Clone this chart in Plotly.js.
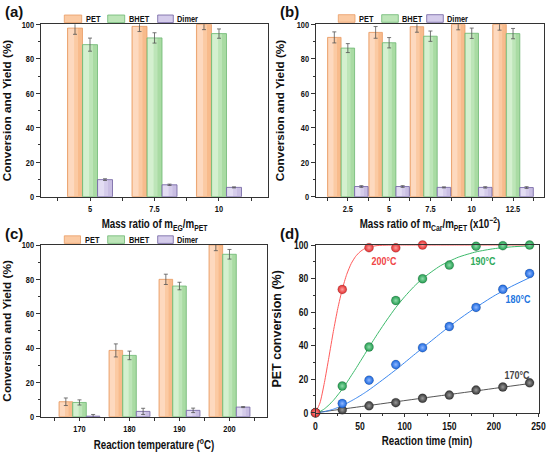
<!DOCTYPE html>
<html>
<head>
<meta charset="utf-8">
<script src="https://cdn.plot.ly/plotly-3.0.1.min.js"></script>
<style>html,body{margin:0;padding:0;background:#fff;}#chart{width:550px;height:452px;}</style>
</head>
<body>
<div id="chart"></div>
<script>
// ---------- Data ----------
// (a) mass ratio EG/PET
const catsA = ['5', '7.5', '10'];
const petA = [97.8, 98.8, 100];
const petAErr = [3.6, 3.0, 3.1];
const bhetA = [88.2, 92.1, 94.6];
const bhetAErr = [3.8, 3.0, 2.7];
const dimerA = [9.9, 6.9, 5.4];
const dimerAErr = [0.5, 0.4, 0.3];

// (b) mass ratio Car/PET (x10^-2)
const catsB = ['2.5', '5', '7.5', '10', '12.5'];
const petB = [92.4, 95.3, 98.6, 100, 100];
const petBErr = [3.2, 3.4, 3.2, 3.2, 3.4];
const bhetB = [86.2, 89.3, 93.1, 94.8, 94.6];
const bhetBErr = [2.6, 3.0, 3.0, 3.0, 3.0];
const dimerB = [5.9, 5.9, 5.4, 5.4, 5.3];
const dimerBErr = [0.5, 0.5, 0.3, 0.4, 0.5];

// (c) reaction temperature
const catsC = ['170', '180', '190', '200'];
const petC = [8.7, 38.6, 80.0, 100];
const petCErr = [2.2, 3.8, 3.0, 3.3];
const bhetC = [8.3, 35.7, 76.1, 94.6];
const bhetCErr = [1.5, 2.5, 2.2, 2.8];
const dimerC = [0.3, 3.1, 3.7, 5.6];
const dimerCErr = [1.0, 1.8, 1.3, 0.3];

// (d) PET conversion vs reaction time
const time200 = [0, 30, 60, 90, 120];
const conv200 = [0, 73.5, 98.4, 98.3, 100];
const timeD = [0, 30, 60, 90, 120, 150, 180, 210, 240];
const conv190 = [0, 15.9, 39.2, 66.9, 79.9, 88.0, 99.3, 99.6, 100];
const conv180 = [0, 5.5, 19.4, 28.7, 38.8, 51.4, 62.8, 73.6, 83.0];
const conv170 = [0, 1.7, 4.1, 6.0, 8.6, 10.5, 13.5, 15.3, 17.8];

// fitted curves
const tFit = [0, 5, 10, 15, 20, 25, 30, 35, 40, 45, 50, 55, 60, 70, 80, 90, 100, 110, 120, 140, 160, 180, 200, 220, 240];
const fit200 = [0, 5.8, 18, 33, 48.4, 62.2, 73.6, 82.5, 88.9, 93.2, 96, 97.8, 98.8, 99.7, 99.9, 100, 100, 100, 100, 100, 100, 100, 100, 100, 100];
const fit190 = [0, 0.7, 2.3, 4.6, 7.3, 10.6, 14, 17.9, 22, 26.1, 30.4, 34.7, 39, 47.4, 55.3, 62.7, 69.2, 75, 80, 87.6, 92.7, 95.9, 97.8, 98.9, 99.5];
const fit180 = [0, 0.2, 0.6, 1.3, 2.1, 3.1, 4.3, 5.6, 7.0, 8.5, 10.1, 11.8, 13.6, 17.5, 21.5, 25.6, 29.9, 34.3, 38.6, 47.2, 55.4, 62.8, 69.6, 75.4, 80.5];
const tFit170 = [0, 60, 120, 180, 240];
const fit170 = [0, 4.3, 8.7, 13.0, 17.4];

const seriesNames = ['PET', 'BHET', 'Dimer'];
const curveLabels = ['200°C', '190°C', '180°C', '170°C'];

// ---------- Styles ----------
const FR = 'Liberation Sans, Arial, sans-serif';
const SQ = 0.78; // horizontal squeeze of horizontal texts
const baseC = ['#f8bb8c', '#a9dba3', '#c9bee3'];
const midC = ['#fbcaa3', '#bde5b8', '#d5cceb'];
const lightC = ['#fdd9bf', '#d4f0cf', '#e3ddf3'];
const edges = ['#e99c65', '#6db872', '#6f5f9f'];
const errC = '#555555';

const W = 550, H = 452;
const px = v => v / W;
const py = v => 1 - v / H;

function barTraces(cats, vals, errs, xa, ya, w, offsets) {
  const idx = cats.map((_, i) => i);
  const out = [];
  vals.forEach((v, k) => {
    const common = {type: 'bar', x: idx, y: v, xaxis: xa, yaxis: ya, showlegend: false, hoverinfo: 'skip'};
    out.push(Object.assign({}, common, {width: w, offset: offsets[k], marker: {color: baseC[k], line: {width: 0}}}));
    out.push(Object.assign({}, common, {width: w * 0.7, offset: offsets[k], marker: {color: midC[k], line: {width: 0}}}));
    out.push(Object.assign({}, common, {width: w * 0.38, offset: offsets[k] + w * 0.06, marker: {color: lightC[k], line: {width: 0}}}));
    out.push(Object.assign({}, common, {name: seriesNames[k], width: w, offset: offsets[k], cliponaxis: false,
      marker: {color: 'rgba(0,0,0,0)', line: {color: edges[k], width: 0.8}},
      error_y: {type: 'data', array: errs[k], visible: true, color: errC, thickness: 0.8, width: 2}}));
  });
  return out;
}

const traces = [].concat(
  barTraces(catsA, [petA, bhetA, dimerA], [petAErr, bhetAErr, dimerAErr], 'x', 'y', 0.2326, [-0.349, -0.1163, 0.1163]),
  barTraces(catsB, [petB, bhetB, dimerB], [petBErr, bhetBErr, dimerBErr], 'x2', 'y2', 0.327, [-0.49, -0.163, 0.164]),
  barTraces(catsC, [petC, bhetC, dimerC], [petCErr, bhetCErr, dimerCErr], 'x3', 'y3', 0.273, [-0.41, -0.137, 0.136])
);

const curveCols = ['#f04545', '#2eaa5a', '#2275e0', '#4a4a4a'];
const lineCols = ['#ff5a5a', '#3cb96a', '#3a86ee', '#555555'];
const markCols = ['#e02a2a', '#1f9a4c', '#1663dc', '#333333'];
const markHi = ['#ff9d9d', '#8fdcaa', '#8fb8ff', '#9a9a9a'];
const fits = [[tFit, fit200], [tFit, fit190], [tFit, fit180], [tFit170, fit170]];
const pts = [[time200, conv200], [timeD, conv190], [timeD, conv180], [timeD, conv170]];
[3, 2, 1, 0].forEach(k => {
  traces.push({type: 'scatter', mode: 'lines', x: fits[k][0], y: fits[k][1], xaxis: 'x4', yaxis: 'y4',
    line: {color: lineCols[k], width: 1, shape: 'spline', smoothing: 0.6}, showlegend: false, hoverinfo: 'skip'});
});
[3, 2, 1, 0].forEach(k => {
  traces.push({type: 'scatter', mode: 'markers', x: pts[k][0], y: pts[k][1], xaxis: 'x4', yaxis: 'y4',
    name: curveLabels[k], showlegend: false, cliponaxis: false,
    marker: {size: 9, color: markCols[k], gradient: {type: 'radial', color: markHi[k]},
      line: {color: 'rgba(0,0,0,0.3)', width: 0.5}}});
});

// ---------- Axes ----------
const tickFont = {family: FR, size: 9.5, weight: 'bold', color: '#111'};
const titleFontX = {family: FR, size: 12.5, weight: 'bold', color: '#111'};
const titleFontY = {family: FR, size: 11.8, weight: 'bold', color: '#111'};
const lineBase = {showline: true, linecolor: '#333', linewidth: 1, mirror: true, zeroline: false, showgrid: false,
  ticks: 'outside', tickcolor: '#333', tickwidth: 1, automargin: false};

function catX(domain, anchor, range, cats, title, standoff) {
  return Object.assign({}, lineBase, {
    domain, anchor, range, tickmode: 'array', tickvals: cats.map((_, i) => i), ticktext: cats,
    ticklen: 3, minor: {tick0: 0.5, dtick: 1, ticks: 'outside', ticklen: 3, tickcolor: '#333', tickwidth: 1},
    tickfont: tickFont, title: {text: title, font: titleFontX, standoff: standoff}
  });
}
function valY(domain, anchor, title, standoff, font, tfont) {
  return Object.assign({}, lineBase, {
    domain, anchor, range: [0, 100], dtick: 20, ticklen: 4,
    minor: {dtick: 10, ticks: 'outside', ticklen: 2, tickcolor: '#333', tickwidth: 1},
    tickfont: tfont || tickFont, title: {text: title, font: font || titleFontY, standoff: standoff}
  });
}

const yTop = [py(196.7), py(24.3)];
const yBot = [py(416.7), py(245)];
const yBotD = [py(412.7), py(245)];

const layout = {
  width: W, height: H, margin: {l: 0, r: 0, t: 0, b: 0, pad: 0, autoexpand: false},
  paper_bgcolor: '#fff', plot_bgcolor: '#fff',
  barmode: 'overlay', showlegend: false,
  xaxis: catX([px(41), px(268)], 'y', [-0.76, 2.76], catsA, 'Mass ratio of m<sub>EG</sub>/m<sub>PET</sub>', 6),
  yaxis: valY(yTop, 'x', 'Conversion and Yield (%)', 6),
  xaxis2: catX([px(316), px(544)], 'y2', [-0.77, 4.75], catsB, 'Mass ratio of m<sub>Car</sub>/m<sub>PET</sub> (x10<sup>−2</sup>)', 6),
  yaxis2: valY(yTop, 'x2', 'Conversion and Yield (%)', 6),
  xaxis3: catX([px(41), px(267)], 'y3', [-0.77, 3.75], catsC, 'Reaction temperature (<sup>o</sup>C)', 7.5),
  yaxis3: valY(yBot, 'x3', 'Conversion and Yield (%)', 6),
  xaxis4: Object.assign({}, lineBase, {domain: [px(315.5), px(538.5)], anchor: 'y4', range: [0, 250], dtick: 50, ticklen: 3,
    minor: {dtick: 25, ticks: 'outside', ticklen: 2, tickcolor: '#333', tickwidth: 1},
    tickfont: {family: FR, size: 11, weight: 'bold', color: '#111'},
    title: {text: 'Reaction time (min)', font: titleFontX, standoff: 5}}),
  yaxis4: valY(yBotD, 'x4', 'PET conversion (%)', 5, {family: FR, size: 12.5, weight: 'bold', color: '#111'},
    {family: FR, size: 11, weight: 'bold', color: '#111'}),
  shapes: [],
  annotations: []
};
const annSqueeze = [];

[['(a)', 3, 11.5], ['(b)', 278, 11.5], ['(c)', 3, 233.5], ['(d)', 278, 233]].forEach(p => {
  layout.annotations.push({text: p[0], xref: 'paper', yref: 'paper', x: px(p[1]), y: py(p[2]),
    xanchor: 'left', yanchor: 'middle', showarrow: false, font: {family: FR, size: 15, weight: 'bold', color: '#111'}});
  annSqueeze.push(null);
});

const legendRows = [
  {y: 18.8, sw: [[64.3, 81.7], [107.7, 124.7], [157.7, 173.3]], tx: [84, 126.5, 175]},
  {y: 18.5, sw: [[338.3, 355], [381.7, 398.3], [426.7, 443.3]], tx: [356.8, 400, 445]},
  {y: 239.6, sw: [[64.3, 80.5], [107.7, 124.5], [157.7, 173.3]], tx: [82.5, 126.5, 175]}
];
legendRows.forEach(r => {
  r.sw.forEach((s, k) => {
    layout.shapes.push({type: 'rect', xref: 'paper', yref: 'paper', x0: px(s[0]), x1: px(s[1]),
      y0: py(r.y + 3.8), y1: py(r.y - 3.8), fillcolor: midC[k], line: {color: edges[k], width: 0.8}});
    layout.annotations.push({text: seriesNames[k], xref: 'paper', yref: 'paper', x: px(r.tx[k]), y: py(r.y),
      xanchor: 'left', yanchor: 'middle', showarrow: false, font: {family: FR, size: 9.5, weight: 'bold', color: '#111'}});
    annSqueeze.push('left');
  });
});

const labelPos = [[76.5, 90.5], [188, 90.5], [227, 68], [225.7, 22.3]];
curveLabels.forEach((t, k) => {
  layout.annotations.push({text: t, xref: 'x4', yref: 'y4', x: labelPos[k][0], y: labelPos[k][1],
    xanchor: 'center', yanchor: 'middle', showarrow: false,
    font: {family: FR, size: 11.5, weight: 'bold', color: k === 3 ? '#444' : curveCols[k]}});
  annSqueeze.push('center');
});

// horizontal squeeze, applied idempotently
const MARK = 'scale(' + SQ + ',1)';
function squeezeEl(el, pivotX) {
  const t = el.getAttribute('transform') || '';
  if (t.indexOf(MARK) >= 0) return;
  const y = parseFloat(el.getAttribute('y')) || 0;
  el.setAttribute('transform', t + ' translate(' + pivotX + ',' + y + ') ' + MARK + ' translate(' + (-pivotX) + ',' + (-y) + ')');
}
const gd = document.getElementById('chart');
function squeezeAll() {
  gd.querySelectorAll('.xtick text, .x2tick text, .x3tick text, .x4tick text, .ytick text, .y2tick text, .y3tick text, .y4tick text')
    .forEach(el => squeezeEl(el, parseFloat(el.getAttribute('x')) || 0));
  gd.querySelectorAll('text.xtitle, text.x2title, text.x3title, text.x4title')
    .forEach(el => {
      const bb = el.getBBox();
      squeezeEl(el, bb.x + bb.width / 2);
    });
  gd.querySelectorAll('.annotation').forEach(g => {
    const mode = annSqueeze[+g.getAttribute('data-index')];
    if (!mode) return;
    const el = g.querySelector('text.annotation-text');
    if (!el) return;
    const bb = el.getBBox();
    squeezeEl(el, mode === 'left' ? bb.x : bb.x + bb.width / 2);
  });
}
Plotly.newPlot(gd, traces, layout, {staticPlot: true, displayModeBar: false}).then(() => {
  squeezeAll();
  gd.on('plotly_afterplot', squeezeAll);
  setTimeout(squeezeAll, 50);
});
</script>
</body>
</html>
